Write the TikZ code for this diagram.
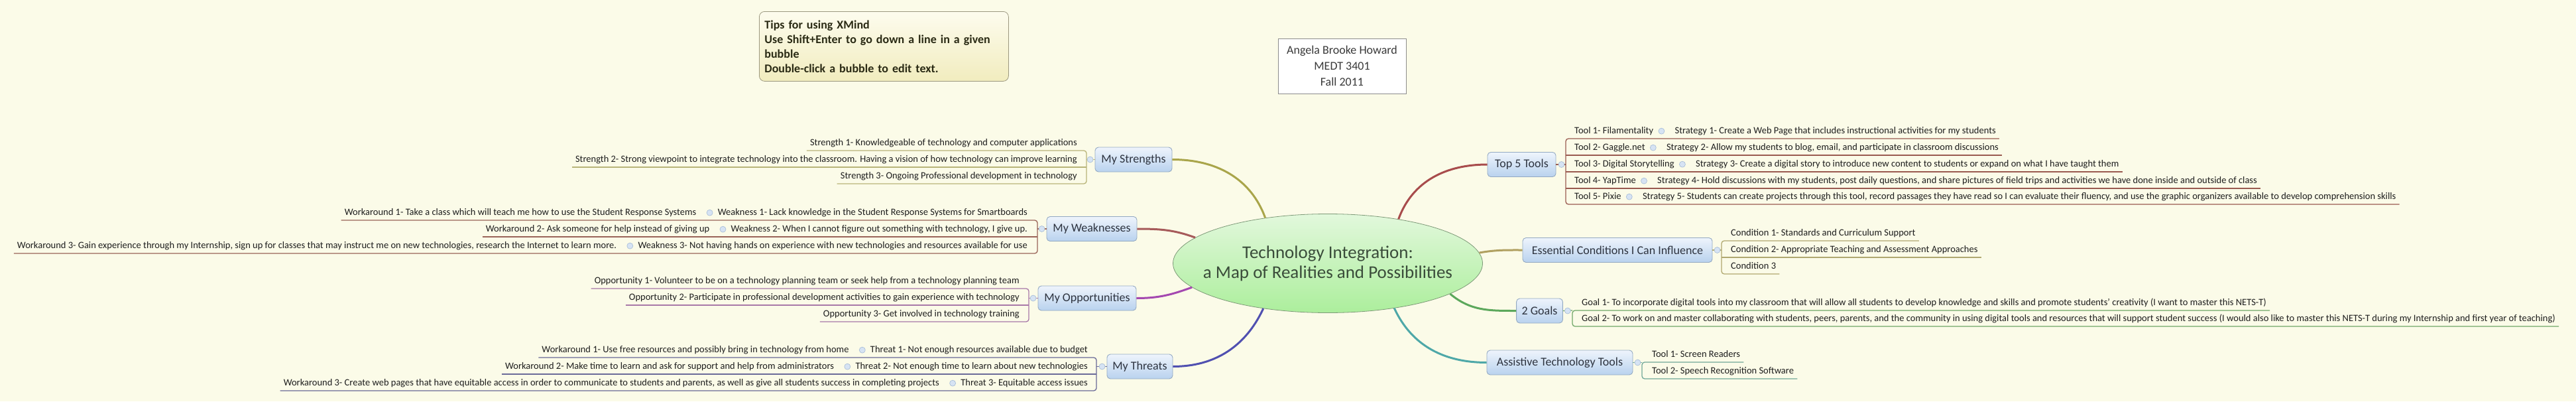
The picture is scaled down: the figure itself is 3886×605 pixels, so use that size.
\documentclass[tikz,border=0pt]{standalone}
\usepackage{fontspec}
\setmainfont{Carlito}
\usetikzlibrary{positioning,shapes.geometric}
\definecolor{paper}{HTML}{FBFBE8}
\definecolor{hubtop}{HTML}{E2F8DC}
\definecolor{hubbot}{HTML}{ACEE9C}
\definecolor{hubedge}{HTML}{7E9A78}
\definecolor{hubtext}{HTML}{3A4C3A}
\definecolor{topictop}{HTML}{EEF4FC}
\definecolor{topicbot}{HTML}{B9D2EE}
\definecolor{topicedge}{HTML}{93A9C2}
\definecolor{topictext}{HTML}{2E3440}
\definecolor{tiptop}{HTML}{FDFCEE}
\definecolor{tipbot}{HTML}{F1ECBE}
\definecolor{tipedge}{HTML}{9C9880}
\definecolor{tiptext}{HTML}{2A2A14}
\definecolor{nameedge}{HTML}{8C8C8C}
\definecolor{nametext}{HTML}{3A3A3A}
\definecolor{foldfill}{HTML}{D6E3F3}
\definecolor{foldedge}{HTML}{A3BAD6}
\definecolor{leaftext}{HTML}{1E1E1E}
\definecolor{strcol}{HTML}{A9A54A}
\definecolor{strline}{HTML}{B8B478}
\definecolor{weakcol}{HTML}{A65A5A}
\definecolor{weakline}{HTML}{9A6458}
\definecolor{oppcol}{HTML}{A448B0}
\definecolor{oppline}{HTML}{A878A8}
\definecolor{thrcol}{HTML}{5050B0}
\definecolor{thrline}{HTML}{6A6A98}
\definecolor{toolcol}{HTML}{A84C4C}
\definecolor{toolline}{HTML}{9A5A50}
\definecolor{condcol}{HTML}{B0A060}
\definecolor{condline}{HTML}{B0A870}
\definecolor{goalcol}{HTML}{5CA85C}
\definecolor{goalline}{HTML}{70A868}
\definecolor{assistcol}{HTML}{4EA8A8}
\definecolor{assistline}{HTML}{70A898}

\begin{document}
\begin{tikzpicture}[x=1pt, y=-1pt,
    hub/.style={ellipse, draw=hubedge, line width=0.8pt, top color=hubtop, bottom color=hubbot, minimum width=467pt, minimum height=149pt, inner xsep=-60pt, inner ysep=0pt, align=center, text=hubtext, font=\fontsize{27}{30}\selectfont},
    topic/.style={draw=topicedge, line width=0.9pt, rounded corners=5pt, top color=topictop, bottom color=topicbot, text=topictext, font=\fontsize{18}{20}\selectfont, minimum height=37pt, inner xsep=8pt},
    leaf/.style={text=leaftext, font=\fontsize{14.5}{17}\selectfont, text height=10.5pt, text depth=3.8pt, inner xsep=5pt, inner ysep=4pt},
    fold/.style={circle, draw=foldedge, fill=foldfill, line width=0.6pt, minimum size=9pt, inner sep=0pt},
    branch/.style={line width=3pt},
    twig/.style={line width=1.3pt, rounded corners=4pt},
    tipbox/.style={draw=tipedge, line width=0.8pt, rounded corners=8pt, top color=tiptop, bottom color=tipbot, align=left, text width=360pt, inner xsep=8pt, inner ysep=6pt, minimum width=376pt, minimum height=105pt, text=tiptext, font=\bfseries\fontsize{18}{22}\selectfont},
    namebox/.style={draw=nameedge, line width=0.8pt, fill=white, align=center, text=nametext, minimum width=193pt, minimum height=83pt, font=\fontsize{18}{24}\selectfont}
  ]

    % background
    \fill[paper] (0,0) rectangle (3886,605);
    \useasboundingbox (0,0) rectangle (3886,605);

    \node[tipbox, anchor=north west] (tips) at (1145,17) {Tips for using XMind\\Use Shift+Enter to go down a line in a given\\bubble\\Double-click a bubble to edit text.};
    \node[namebox] (author) at (2024.5,99.5) {Angela Brooke Howard\\MEDT 3401\\Fall 2011};

    \node[hub] (hub) at (2003,397) {Technology Integration:\\a Map of Realities and Possibilities};

    % main topics
    \node[topic, minimum width=116pt] (str) at (1710,240.5) {My Strengths};
    \node[topic, minimum width=136pt] (weak) at (1647,345) {My Weaknesses};
    \node[topic, minimum width=148pt] (opp) at (1640,449.5) {My Opportunities};
    \node[topic, minimum width=99pt] (thr) at (1719.5,552.5) {My Threats};
    \node[topic, minimum width=103pt] (tools) at (2295.5,248) {Top 5 Tools};
    \node[topic, minimum width=286pt] (cond) at (2440,377) {Essential Conditions I Can Influence};
    \node[topic, minimum width=69pt] (goals) at (2322.5,468.5) {2 Goals};
    \node[topic, minimum width=220pt] (assist) at (2353,546.5) {Assistive Technology Tools};

    \draw[branch, strcol] (hub.144) to[out=110, in=0] (str.east);
    \draw[branch, weakcol] (hub.169) to[out=160, in=0] (weak.east);
    \draw[branch, oppcol] (hub.190) to[out=200, in=0] (opp.east);
    \draw[branch, thrcol] (hub.215) to[out=245, in=0] (thr.east);
    \draw[branch, toolcol] (hub.32) to[out=70, in=180] (tools.west);
    \draw[branch, condcol] (hub.4) to[out=10, in=180] (cond.west);
    \draw[branch, goalcol] (hub.346) to[out=-40, in=180] (goals.west);
    \draw[branch, assistcol] (hub.326) to[out=-65, in=180] (assist.west);

    % strengths
    \coordinate (sb) at (1639,240.5);
    \node[leaf, anchor=south east] (s1) at (1630,227) {Strength 1- Knowledgeable of technology and computer applications};
    \node[leaf, anchor=south east] (s2) at (1630,252) {Strength 2- Strong viewpoint to integrate technology into the classroom. Having a vision of how technology can improve learning};
    \node[leaf, anchor=south east] (s3) at (1630,277) {Strength 3- Ongoing Professional development in technology};
    \draw[twig, strline] (s1.south west) -- (s1.south west -| sb) -- (s3.south west -| sb) -- (s3.south west);
    \draw[twig, strline] (s2.south west) -- (s2.south west -| sb);
    \draw[twig, strline] (sb) -- (str.west);

    % weaknesses
    \coordinate (wb) at (1565,345);
    \node[leaf, anchor=south east] (w1) at (1555,332) {Weakness 1- Lack knowledge in the Student Response Systems for Smartboards};
    \node[leaf, left=22pt of w1.south west, anchor=south east] (wa1) {Workaround 1- Take a class which will teach me how to use the Student Response Systems};
    \node[leaf, anchor=south east] (w2) at (1555,357) {Weakness 2- When I cannot figure out something with technology, I give up.};
    \node[leaf, left=22pt of w2.south west, anchor=south east] (wa2) {Workaround 2- Ask someone for help instead of giving up};
    \node[leaf, anchor=south east] (w3) at (1555,382) {Weakness 3- Not having hands on experience with new technologies and resources available for use};
    \node[leaf, left=22pt of w3.south west, anchor=south east] (wa3) {Workaround 3- Gain experience through my Internship, sign up for classes that may instruct me on new technologies, research the Internet to learn more.};
    \draw[twig, weakline] (wa1.south west) -- (w1.south west -| wb) -- (w3.south west -| wb) -- (wa3.south west);
    \draw[twig, weakline] (wa2.south west) -- (w2.south west -| wb);
    \draw[twig, weakline] (wb) -- (weak.west);

    % opportunities
    \coordinate (ob) at (1552,449.5);
    \node[leaf, anchor=south east] (o1) at (1543,435) {Opportunity 1- Volunteer to be on a technology planning team or seek help from a technology planning team};
    \node[leaf, anchor=south east] (o2) at (1543,460) {Opportunity 2- Participate in professional development activities to gain experience with technology};
    \node[leaf, anchor=south east] (o3) at (1543,485) {Opportunity 3- Get involved in technology training};
    \draw[twig, oppline] (o1.south west) -- (o1.south west -| ob) -- (o3.south west -| ob) -- (o3.south west);
    \draw[twig, oppline] (o2.south west) -- (o2.south west -| ob);
    \draw[twig, oppline] (ob) -- (opp.west);

    % threats
    \coordinate (thb) at (1654,552.5);
    \node[leaf, anchor=south east] (th1) at (1646,539) {Threat 1- Not enough resources available due to budget};
    \node[leaf, left=22pt of th1.south west, anchor=south east] (ta1) {Workaround 1- Use free resources and possibly bring in technology from home};
    \node[leaf, anchor=south east] (th2) at (1646,564) {Threat 2- Not enough time to learn about new technologies};
    \node[leaf, left=22pt of th2.south west, anchor=south east] (ta2) {Workaround 2- Make time to learn and ask for support and help from administrators};
    \node[leaf, anchor=south east] (th3) at (1646,589) {Threat 3- Equitable access issues};
    \node[leaf, left=22pt of th3.south west, anchor=south east] (ta3) {Workaround 3- Create web pages that have equitable access in order to communicate to students and parents, as well as give all students success in completing projects};
    \draw[twig, thrline] (ta1.south west) -- (th1.south west -| thb) -- (th3.south west -| thb) -- (ta3.south west);
    \draw[twig, thrline] (ta2.south west) -- (th2.south west -| thb);
    \draw[twig, thrline] (thb) -- (thr.west);

    % top 5 tools
    \coordinate (tb) at (2362,248);
    \node[leaf, anchor=south west] (t1) at (2370,209) {Tool 1- Filamentality};
    \node[leaf, right=22pt of t1.south east, anchor=south west] (st1) {Strategy 1- Create a Web Page that includes instructional activities for my students};
    \node[leaf, anchor=south west] (t2) at (2370,234) {Tool 2- Gaggle.net};
    \node[leaf, right=22pt of t2.south east, anchor=south west] (st2) {Strategy 2- Allow my students to blog, email, and participate in classroom discussions};
    \node[leaf, anchor=south west] (t3) at (2370,259) {Tool 3- Digital Storytelling};
    \node[leaf, right=22pt of t3.south east, anchor=south west] (st3) {Strategy 3- Create a digital story to introduce new content to students or expand on what I have taught them};
    \node[leaf, anchor=south west] (t4) at (2370,284) {Tool 4- YapTime};
    \node[leaf, right=22pt of t4.south east, anchor=south west] (st4) {Strategy 4- Hold discussions with my students, post daily questions, and share pictures of field trips and activities we have done inside and outside of class};
    \node[leaf, anchor=south west] (t5) at (2370,308) {Tool 5- Pixie};
    \node[leaf, right=22pt of t5.south east, anchor=south west] (st5) {Strategy 5- Students can create projects through this tool, record passages they have read so I can evaluate their fluency, and use the graphic organizers available to develop comprehension skills};
    \draw[twig, toolline] (st1.south east) -- (t1.south west -| tb) -- (t5.south west -| tb) -- (st5.south east);
    \draw[twig, toolline] (st2.south east) -- (t2.south west -| tb);
    \draw[twig, toolline] (st3.south east) -- (t3.south west -| tb);
    \draw[twig, toolline] (st4.south east) -- (t4.south west -| tb);
    \draw[twig, toolline] (tools.east) -- (tb);

    % conditions
    \coordinate (cb) at (2597,377);
    \node[leaf, anchor=south west] (c1) at (2606,363) {Condition 1- Standards and Curriculum Support};
    \node[leaf, anchor=south west] (c2) at (2606,388) {Condition 2- Appropriate Teaching and Assessment Approaches};
    \node[leaf, anchor=south west] (c3) at (2606,413) {Condition 3};
    \draw[twig, condline] (c1.south east) -- (c1.south west -| cb) -- (c3.south west -| cb) -- (c3.south east);
    \draw[twig, condline] (c2.south east) -- (c2.south west -| cb);
    \draw[twig, condline] (cond.east) -- (cb);

    % goals
    \coordinate (gb) at (2372,468);
    \node[leaf, anchor=south west] (g1) at (2381,468) {Goal 1- To incorporate digital tools into my classroom that will allow all students to develop knowledge and skills and promote students' creativity (I want to master this NETS-T)};
    \node[leaf, anchor=south west] (g2) at (2381,492) {Goal 2- To work on and master collaborating with students, peers, parents, and the community in using digital tools and resources that will support student success (I would also like to master this NETS-T during my Internship and first year of teaching)};
    \draw[twig, goalline] (g1.south east) -- (g1.south west -| gb) -- (g2.south west -| gb) -- (g2.south east);
    \draw[twig, goalline] (goals.east) -- (gb);

    % assistive tools
    \coordinate (ab) at (2477,546.5);
    \node[leaf, anchor=south west] (a1) at (2487,546) {Tool 1- Screen Readers};
    \node[leaf, anchor=south west] (a2) at (2487,571) {Tool 2- Speech Recognition Software};
    \draw[twig, assistline] (a1.south east) -- (a1.south west -| ab) -- (a2.south west -| ab) -- (a2.south east);
    \draw[twig, assistline] (assist.east) -- (ab);

    % fold markers
    \node[fold] (fs) at ([xshift=-7pt]str.west) {};
    \node[fold] (fw) at ([xshift=-7pt]weak.west) {};
    \node[fold] (fo) at ([xshift=-7pt]opp.west) {};
    \node[fold] (fth) at ([xshift=-7pt]thr.west) {};
    \node[fold] (ftl) at ([xshift=8pt]tools.east) {};
    \node[fold] (fc) at ([xshift=7pt]cond.east) {};
    \node[fold] (fg) at ([xshift=7pt]goals.east) {};
    \node[fold] (fa) at ([xshift=7pt]assist.east) {};
    \node[fold] (fw1) at ([xshift=-7pt]w1.west) {};
    \node[fold] (fw2) at ([xshift=-7pt]w2.west) {};
    \node[fold] (fw3) at ([xshift=-7pt]w3.west) {};
    \node[fold] (ft1) at ([xshift=-7pt]th1.west) {};
    \node[fold] (ft2) at ([xshift=-7pt]th2.west) {};
    \node[fold] (ft3) at ([xshift=-7pt]th3.west) {};
    \node[fold] (fk1) at ([xshift=7pt]t1.east) {};
    \node[fold] (fk2) at ([xshift=7pt]t2.east) {};
    \node[fold] (fk3) at ([xshift=7pt]t3.east) {};
    \node[fold] (fk4) at ([xshift=7pt]t4.east) {};
    \node[fold] (fk5) at ([xshift=7pt]t5.east) {};

  \end{tikzpicture}
\end{document}
